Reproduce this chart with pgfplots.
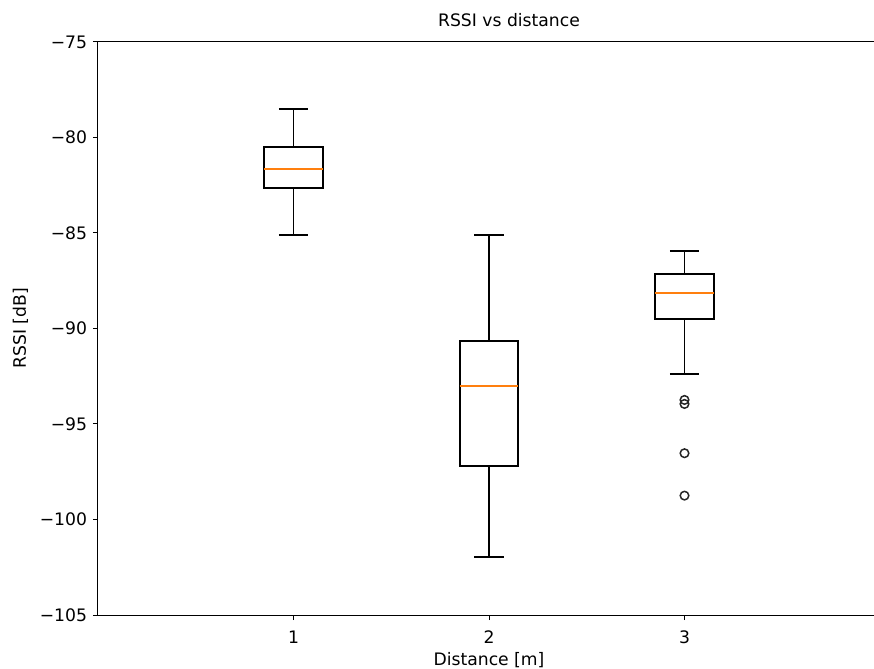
\documentclass[border=0pt]{standalone}
\usepackage{fontspec}
\setmainfont{DejaVu Sans}
\usepackage{pgfplots}
\pgfplotsset{compat=1.18}
\usepgfplotslibrary{statistics}
\definecolor{mplorange}{HTML}{FF7F0E}
\pgfplotsset{
  mybox/.style={black, line width=1.8bp, boxplot/box extend=0.3, boxplot/whisker extend=0.15,
    boxplot/every box/.style={draw=black, line width=1.8bp},
    boxplot/every whisker/.style={draw=black, line width=1.8bp},
    boxplot/every median/.style={draw=mplorange, line width=1.8bp}},
}
\begin{document}
\fontsize{17.2bp}{20bp}\selectfont
\begin{tikzpicture}
\useasboundingbox (-98bp,-54bp) rectangle (776bp,615bp);
\begin{axis}[
  at={(0,0)}, anchor=south west,
  scale only axis,
  width=782bp, height=573bp,
  xmin=0, xmax=4, ymin=-105, ymax=-75,
  axis x line=box, axis y line*=left,
  axis line style={black, line width=1bp},
  xtick={1,2,3}, xticklabels={1,2,3},
  ytick={-105,-100,-95,-90,-85,-80,-75},
  yticklabels={−105,−100,−95,−90,−85,−80,−75},
  xtick pos=bottom, ytick pos=left,
  tick align=outside,
  major tick length=5bp,
  tick style={black, line width=1bp},
  ticklabel style={font=\fontsize{17.2bp}{20bp}\selectfont},
  xticklabel style={yshift=-5bp},
  label style={font=\fontsize{17.2bp}{20bp}\selectfont},
  title style={font=\fontsize{17.2bp}{20bp}\selectfont, yshift=3bp, xshift=20bp},
  xlabel style={yshift=3bp},
  ylabel style={yshift=0bp},
  title={RSSI vs distance},
  xlabel={Distance [m]},
  ylabel={RSSI [dB]},
  boxplot/draw direction=y,
]
\addplot[mybox,
  boxplot prepared={draw position=1, median=-81.63, upper quartile=-80.51, lower quartile=-82.66,
  upper whisker=-78.51, lower whisker=-85.12}] coordinates {};
\addplot[mybox,
  boxplot prepared={draw position=2, median=-93.01, upper quartile=-90.64, lower quartile=-97.18,
  upper whisker=-85.12, lower whisker=-101.96}] coordinates {};
\addplot[mybox,
  boxplot prepared={draw position=3, median=-88.14, upper quartile=-87.13, lower quartile=-89.52,
  upper whisker=-85.94, lower whisker=-92.40}] coordinates {};
\addplot[only marks, mark=o, mark size=4.3bp, mark options={solid, draw=black!85, line width=1.5bp}]
  coordinates {(3,-93.74) (3,-93.95) (3,-96.53) (3,-98.75)};
\end{axis}
\end{tikzpicture}
\end{document}
